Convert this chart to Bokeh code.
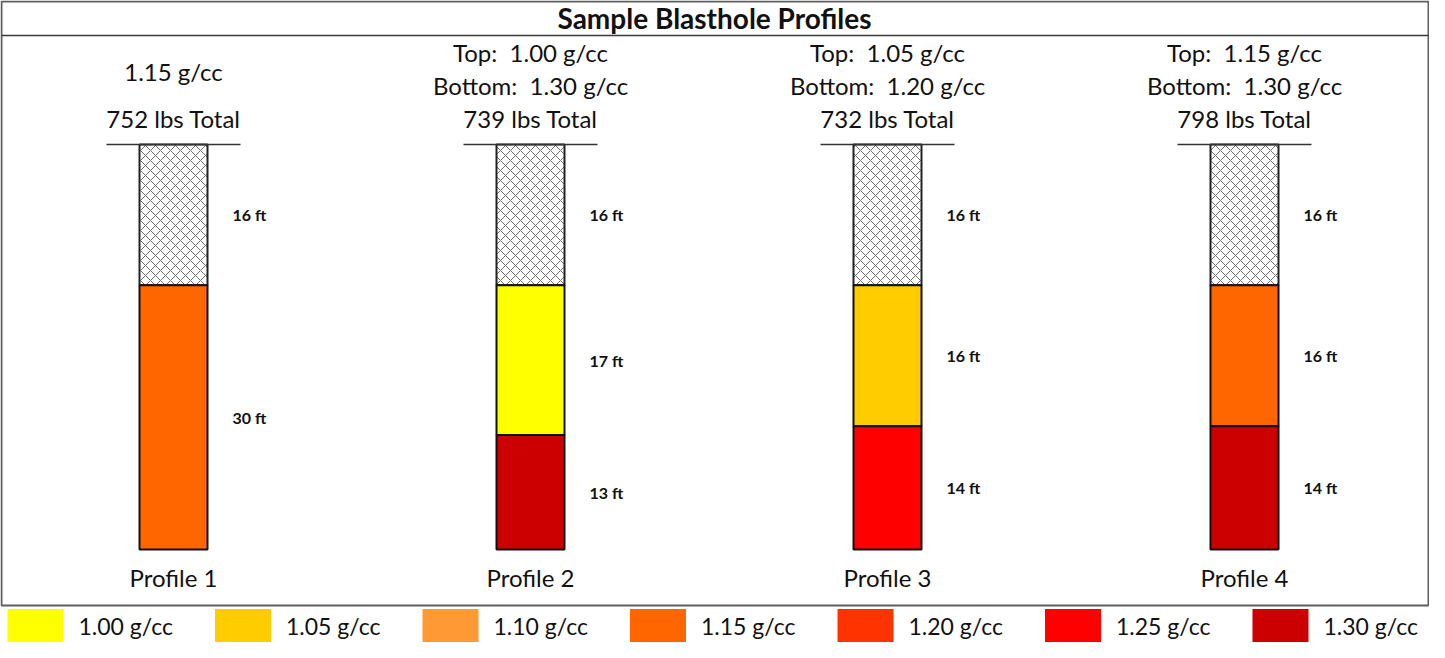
from bokeh.plotting import figure
from bokeh.models import Range1d
from bokeh.core.properties import value
from bokeh.embed import file_html
from bokeh.resources import INLINE

# ---------------- data ----------------
chart_title = "Sample Blasthole Profiles"
profiles = ["Profile 1", "Profile 2", "Profile 3", "Profile 4"]
stemming_ft = [16, 16, 16, 16]
upper_charge_ft = [30, 17, 16, 16]
lower_charge_ft = [0, 13, 14, 14]
upper_fill_density = ["1.15", "1.00", "1.05", "1.15"]
lower_fill_density = [None, "1.30", "1.25", "1.30"]
header_top = ["1.15", "1.00", "1.05", "1.15"]
header_bottom = [None, "1.30", "1.20", "1.30"]
total_lbs = [752, 739, 732, 798]
legend_density = ["1.00", "1.05", "1.10", "1.15", "1.20", "1.25", "1.30"]
legend_color = ["#FFFF00", "#FFCC00", "#FF9933", "#FF6600", "#FF3300", "#FF0000", "#CC0000"]

# ---------------- layout ----------------
W, H = 1429, 642
GROUND_PX, BOTTOM_PX = 144, 549
FIRST_PX, STEP_PX = 173, 357
FONT = "Lato"

color_of = dict(zip(legend_density, legend_color))
depths = [s + u + l for s, u, l in zip(stemming_ft, upper_charge_ft, lower_charge_ft)]
total_depth = max(depths)
ppf = (BOTTOM_PX - GROUND_PX) / total_depth


def dy(px):
    return (px - GROUND_PX) / ppf


def dx(px):
    return (px - FIRST_PX) / STEP_PX


p = figure(width=W, height=H, x_range=Range1d(dx(0), dx(W)), y_range=Range1d(dy(H), dy(0)),
           output_backend="svg", toolbar_location=None, min_border=0,
           x_axis_type=None, y_axis_type=None, outline_line_color=None,
           background_fill_color="white", border_fill_color="white")
p.grid.visible = False

xs = list(range(len(profiles)))
bar_w = 68 / STEP_PX

# outer box and title separator
p.quad(left=[dx(1)], right=[dx(1428)], top=[dy(1)], bottom=[dy(605)],
       fill_color=None, line_color="#5f5f5f", line_width=2)
p.segment(x0=[dx(1)], x1=[dx(1428)], y0=[dy(35)], y1=[dy(35)], line_color="#3a3a3a", line_width=1.5)
p.text(x=[dx(714)], y=[dy(17)], text=[chart_title], text_font=value(FONT), text_font_style="bold",
       text_font_size="28px", text_align="center", text_baseline="middle", text_color="#111")

# stemming (hatched)
p.vbar(x=xs, top=[0] * len(xs), bottom=stemming_ft, width=bar_w, fill_color="white",
       hatch_pattern="diagonal_cross", hatch_color="#707070", hatch_scale=10, hatch_weight=1,
       line_color="#222", line_width=2)

# upper charge
up_top = stemming_ft
up_bot = [s + u for s, u in zip(stemming_ft, upper_charge_ft)]
p.vbar(x=xs, top=up_top, bottom=up_bot, width=bar_w,
       fill_color=[color_of[d] for d in upper_fill_density], line_color="#111", line_width=2)

# lower charge
lx, lt, lb, lc = [], [], [], []
for i in xs:
    if lower_charge_ft[i] > 0:
        lx.append(i)
        lt.append(up_bot[i])
        lb.append(up_bot[i] + lower_charge_ft[i])
        lc.append(color_of[lower_fill_density[i]])
p.vbar(x=lx, top=lt, bottom=lb, width=bar_w, fill_color=lc, line_color="#111", line_width=2)

# ground line
half = 67 / STEP_PX
p.segment(x0=[x - half for x in xs], x1=[x + half for x in xs], y0=[0] * len(xs), y1=[0] * len(xs),
          line_color="#333", line_width=1.5)

# length labels
lab_x, lab_y, lab_t = [], [], []
for i in xs:
    segs = [(0, stemming_ft[i]), (stemming_ft[i], upper_charge_ft[i])]
    if lower_charge_ft[i] > 0:
        segs.append((up_bot[i], lower_charge_ft[i]))
    for start, length in segs:
        lab_x.append(i + bar_w / 2 + 25 / STEP_PX)
        lab_y.append(start + length / 2)
        lab_t.append(f"{length} ft")
p.text(x=lab_x, y=lab_y, text=lab_t, text_font=value(FONT), text_font_style="bold",
       text_font_size="16px", text_align="left", text_baseline="middle", text_color="#111")

# headers
hx, hy, ht = [], [], []
for i in xs:
    if header_bottom[i] is None:
        hx.append(i); hy.append(dy((52 + 85) / 2 + 2)); ht.append(f"{header_top[i]} g/cc")
    else:
        hx.append(i); hy.append(dy(52)); ht.append(f"Top:\u00a0 {header_top[i]} g/cc")
        hx.append(i); hy.append(dy(85)); ht.append(f"Bottom:\u00a0 {header_bottom[i]} g/cc")
    hx.append(i); hy.append(dy(118)); ht.append(f"{total_lbs[i]} lbs Total")
p.text(x=hx, y=hy, text=ht, text_font=value(FONT), text_font_size="24px",
       text_align="center", text_baseline="middle", text_color="#111")

# profile names
p.text(x=xs, y=[dy(577)] * len(xs), text=profiles, text_font=value(FONT), text_font_size="24px",
       text_align="center", text_baseline="middle", text_color="#111")

# legend
LEG_STEP = 207.5
sw_x = [dx(35 + LEG_STEP * k) for k in range(len(legend_density))]
p.rect(x=sw_x, y=[dy(625)] * len(sw_x), width=56, height=33, width_units="screen",
       height_units="screen", fill_color=legend_color, line_color=None)
p.text(x=[dx(78 + LEG_STEP * k) for k in range(len(legend_density))], y=[dy(625)] * len(sw_x),
       text=[f"{d} g/cc" for d in legend_density], text_font=value(FONT), text_font_size="23px",
       text_align="left", text_baseline="middle", text_color="#111")

open("out.html", "w").write(file_html(p, INLINE))
